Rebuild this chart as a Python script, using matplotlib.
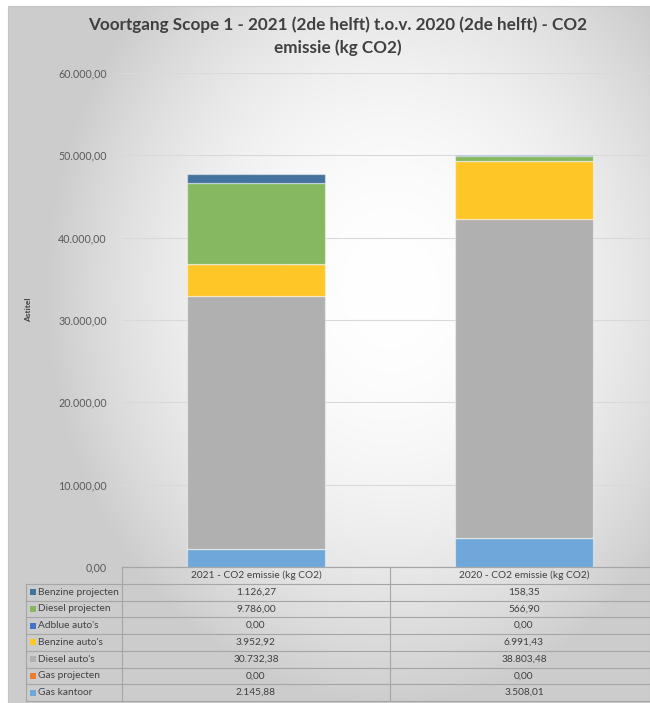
import numpy as np
import matplotlib
matplotlib.use("Agg")
import matplotlib.pyplot as plt
from matplotlib.patches import Rectangle

categories = ["2021 - CO2 emissie (kg CO2)", "2020 - CO2 emissie (kg CO2)"]
series_names = ["Benzine projecten", "Diesel projecten", "Adblue auto's",
                "Benzine auto's", "Diesel auto's", "Gas projecten", "Gas kantoor"]
benzine_projecten = [1126.27, 158.35]
diesel_projecten = [9786.00, 566.90]
adblue_autos = [0.00, 0.00]
benzine_autos = [3952.92, 6991.43]
diesel_autos = [30732.38, 38803.48]
gas_projecten = [0.00, 0.00]
gas_kantoor = [2145.88, 3508.01]
y_ticks = [0, 10000, 20000, 30000, 40000, 50000, 60000]

series_values = [benzine_projecten, diesel_projecten, adblue_autos,
                 benzine_autos, diesel_autos, gas_projecten, gas_kantoor]
colors = ["#44739f", "#86b862", "#4472c4", "#ffc628", "#b0b0b0", "#ed7d31", "#6fa7da"]

title_l1 = "Voortgang Scope 1 - 2021 (2de helft) t.o.v. 2020 (2de helft) - CO2"
title_l2 = "emissie (kg CO2)"
y_title = "Astitel"

plt.rcParams['font.family'] = ['Lato', 'DejaVu Sans']

W, H = 650, 703
fig = plt.figure(figsize=(W / 100, H / 100), dpi=100)
fig.patch.set_facecolor("white")


def fx(px):
    return px / W


def fy(py):
    return 1 - py / H


def nl(v):
    s = f"{v:,.2f}"
    return s.replace(",", "X").replace(".", ",").replace("X", ".")


# background panel with radial gradient
bg = fig.add_axes([0, 0, 1, 1], zorder=-10)
bg.set_xlim(0, W)
bg.set_ylim(H, 0)
bg.axis("off")
yy, xx = np.mgrid[6:H, 8:W]
r2 = ((xx - 390) / 300.0) ** 2 + ((yy - 290) / 360.0) ** 2
val = np.clip(1 - 0.15 * r2, 0.80, 1.0)
img = np.dstack([val, val, val])
bg.imshow(img, extent=(8, W, H, 6), aspect="auto", interpolation="bilinear")
bg.add_patch(Rectangle((8, 6), W - 8, H - 6, fill=False, edgecolor="#c4c4c4", lw=0.8))
bg.set_xlim(0, W)
bg.set_ylim(H, 0)

# main plot axes
ax_left, ax_right, ax_top, ax_bottom = 122, 658, 73, 567
ax = fig.add_axes([fx(ax_left), fy(ax_bottom), (ax_right - ax_left) / W, (ax_bottom - ax_top) / H])
ax.patch.set_alpha(0)
x = np.arange(len(categories))
bottom = np.zeros(len(categories))
order = list(range(len(series_names)))[::-1]
for i in order:
    vals = np.array(series_values[i])
    ax.bar(x, vals, width=0.515, bottom=bottom, color=colors[i],
           edgecolor=(1, 1, 1, 0.45), linewidth=0.9, zorder=3)
    bottom += vals
ax.set_xlim(-0.5, 1.5)
ax.set_ylim(0, 60000)
ax.set_yticks(y_ticks)
ax.set_yticklabels([nl(v) for v in y_ticks], fontsize=7.7, color="#595959")
ax.tick_params(axis="y", length=0, pad=11)
ax.set_xticks([])
ax.yaxis.grid(True, color="#d9d9d9", lw=0.8, zorder=0)
for s in ["top", "right", "left"]:
    ax.spines[s].set_visible(False)
ax.spines["bottom"].set_color("#a6a6a6")
ax.spines["bottom"].set_linewidth(0.8)

# titles
fig.text(fx(338), fy(25), title_l1, ha="center", va="center", fontsize=12.3,
         fontweight="bold", color="#404040")
fig.text(fx(338), fy(48), title_l2, ha="center", va="center", fontsize=12.3,
         fontweight="bold", color="#404040")
fig.text(fx(29), fy(310), y_title, ha="center", va="center", rotation=90,
         fontsize=6, fontweight="bold", color="#404040")

# data table
tab = fig.add_axes([0, 0, 1, 1], zorder=5)
tab.set_xlim(0, W)
tab.set_ylim(H, 0)
tab.axis("off")
tab.patch.set_alpha(0)
lc = "#a6a6a6"
top = 567.0
rh = 16.75
c0, c1, c2, c3 = 26, 122, 390, 658
n = len(series_names)
bottom_y = top + rh * (n + 1)
tab.plot([c1, c3], [top, top], color=lc, lw=0.8)
for k in range(1, n + 2):
    yk = top + rh * k
    tab.plot([c0, c3], [yk, yk], color=lc, lw=0.8)
tab.plot([c0, c0], [top + rh, bottom_y], color=lc, lw=0.8)
for cx in (c1, c2):
    tab.plot([cx, cx], [top, bottom_y], color=lc, lw=0.8)
for j, cat in enumerate(categories):
    cxm = (c1 + c2) / 2 if j == 0 else (c2 + c3) / 2
    tab.text(cxm, top + rh / 2, cat, ha="center", va="center", fontsize=7.3, color="#404040")
for i, name in enumerate(series_names):
    yc = top + rh * (i + 1) + rh / 2
    tab.add_patch(Rectangle((30, yc - 3), 6, 6, color=colors[i], lw=0))
    tab.text(38, yc, name, ha="left", va="center", fontsize=7.3, color="#404040")
    for j in range(len(categories)):
        cxm = (c1 + c2) / 2 if j == 0 else (c2 + c3) / 2
        tab.text(cxm, yc, nl(series_values[i][j]), ha="center", va="center",
                 fontsize=7.3, color="#404040")

fig.savefig("out.png", dpi=100)
